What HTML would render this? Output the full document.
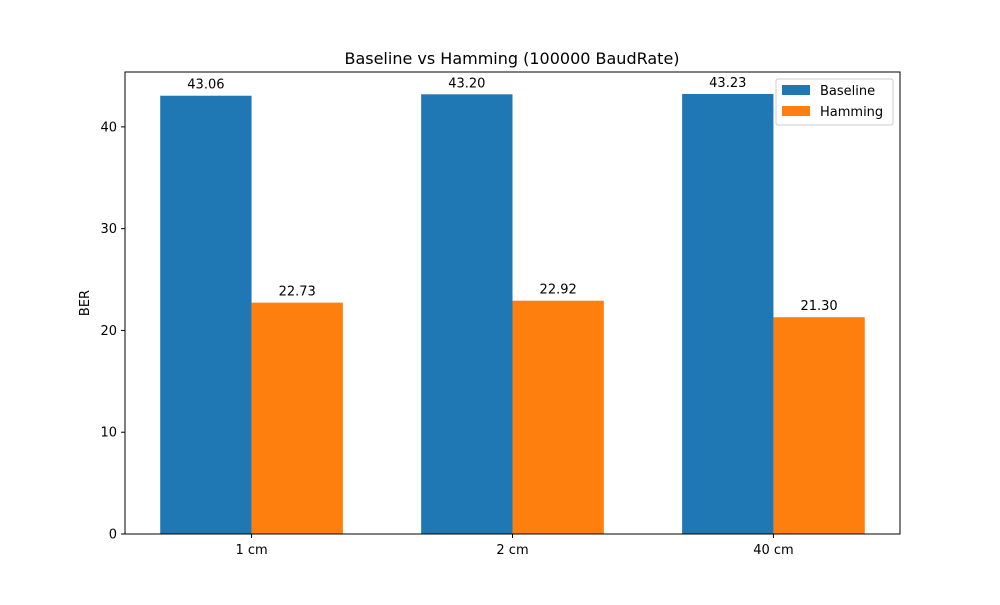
<!DOCTYPE html>
<html><head><meta charset="utf-8"><style>
body{margin:0;background:#fff;font-family:"Liberation Sans","DejaVu Sans",sans-serif}
svg text{font-family:"DejaVu Sans","Liberation Sans",sans-serif;fill:#000}
</style></head><body>
<svg id="chart" width="1000" height="600">
<rect width="1000" height="600" fill="#fff"/>
<text x="512" y="64" font-size="16" text-anchor="middle">Baseline vs Hamming (100000 BaudRate)</text>
<g id="bars"></g><g id="axes"></g>
<text transform="translate(89,303) rotate(-90)" font-size="13" text-anchor="middle">BER</text>
<g>
<rect x="776" y="79" width="117" height="46" fill="#fff" stroke="#ccc" rx="2"/>
<rect x="782" y="85" width="28" height="10" fill="#1f77b4"/>
<text x="820" y="95" font-size="13">Baseline</text>
<rect x="782" y="106" width="28" height="10" fill="#ff7f0e"/>
<text x="820" y="116" font-size="13">Hamming</text>
</g>
</svg>
<script>
const categories=["1 cm","2 cm","40 cm"];
const baseline=[43.06,43.20,43.23];
const hamming=[22.73,22.92,21.30];
const yTicks=[0,10,20,30,40];
const L=125,R=900,T=72,B=534;
const ymax=Math.max(...baseline,...hamming)*1.05;
const xmin=-0.485,xmax=categories.length-1+0.485;
const sx=v=>L+(v-xmin)/(xmax-xmin)*(R-L);
const sy=v=>B-v/ymax*(B-T);
const NS="http://www.w3.org/2000/svg";
const bars=document.getElementById('bars'),axes=document.getElementById('axes');
function mk(tag,attrs,parent){const e=document.createElementNS(NS,tag);for(const k in attrs)e.setAttribute(k,attrs[k]);parent.appendChild(e);return e;}
const w=0.35;
[[baseline,-w/2,'#1f77b4','baseline'],[hamming,w/2,'#ff7f0e','hamming']].forEach(([vals,off,col,nm])=>{
vals.forEach((v,i)=>{
const x0=sx(i+off-w/2),x1=sx(i+off+w/2);
const r=mk('rect',{x:x0,y:sy(v),width:x1-x0,height:B-sy(v),fill:col},bars);


const t=mk('text',{x:(x0+x1)/2,y:sy(v)-7,'font-size':13,'text-anchor':'middle'},bars);
t.textContent=v.toFixed(2);


});});
const fr=mk('rect',{x:L,y:T,width:R-L,height:B-T,fill:'none',stroke:'#000','stroke-width':1},axes);


yTicks.forEach(v=>{
mk('line',{x1:L-4,x2:L,y1:sy(v),y2:sy(v),stroke:'#000'},axes);
const t=mk('text',{x:L-8,y:sy(v)+4.5,'font-size':13,'text-anchor':'end'},axes);
t.textContent=v;


});
categories.forEach((c,i)=>{
mk('line',{x1:sx(i),x2:sx(i),y1:B,y2:B+4,stroke:'#000'},axes);
const t=mk('text',{x:sx(i),y:B+20,'font-size':13,'text-anchor':'middle'},axes);
t.textContent=c;


});
</script>
</body></html>
